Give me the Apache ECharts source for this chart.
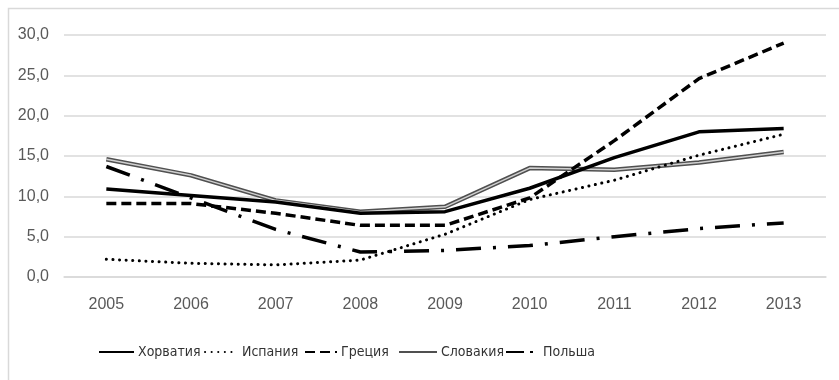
<!DOCTYPE html>
<html><head><meta charset="utf-8">
<script src="https://cdn.jsdelivr.net/npm/echarts@6/dist/echarts.min.js"></script>
<style>html,body{margin:0;padding:0;background:#fff}#c{width:839px;height:380px}</style>
</head><body><div id="c"></div>
<script>
const years = ['2005','2006','2007','2008','2009','2010','2011','2012','2013'];
const croatia  = [10.9, 10.1, 9.3, 7.9, 8.1, 11.0, 14.8, 18.0, 18.4];
const spain    = [2.2, 1.7, 1.5, 2.1, 5.3, 9.6, 12.0, 15.1, 17.7];
const greece   = [9.1, 9.1, 7.9, 6.4, 6.4, 9.8, 16.9, 24.6, 29.0];
const slovakia = [14.6, 12.6, 9.5, 8.1, 8.7, 13.5, 13.3, 14.2, 15.5];
const poland   = [13.7, 9.8, 5.9, 3.1, 3.3, 3.9, 5.0, 6.0, 6.7];
const names = ['Хорватия','Испания','Греция','Словакия','Польша'];
const yTicks = {min: 0, max: 30, interval: 5};

const AXFONT = '"Liberation Sans", Arial, sans-serif';
const LGFONT = '"DejaVu Sans Condensed", "Liberation Sans", sans-serif';
const legendLefts = [98, 204, 304, 398, 505];
const legendWidths = [35, 33, 32, 38, 33];
const legendLine = [
  {},
  {},
  {},
  {},
  {type: [18, 6, 3, 6]}
];

const chart = echarts.init(document.getElementById('c'));
chart.setOption({
  animation: false,
  textStyle: {fontFamily: AXFONT},
  graphic: [{type:'rect', shape:{x:8.5, y:8.5, width:900, height:400}, style:{fill:'none', stroke:'#d9d9d9', lineWidth:1.5}, silent:true}],
  grid: {left: 64, right: 13, top: 35, bottom: 103},
  legend: names.map((n, i) => ({
    data: [n], left: legendLefts[i], top: 345, padding: 0,
    itemWidth: legendWidths[i], itemHeight: 14, itemGap: 0,
    itemStyle: {color: 'transparent', borderWidth: 0, opacity: 0},
    lineStyle: legendLine[i],
    textStyle: {fontFamily: LGFONT, fontSize: 14, color: '#333', padding: [0, 0, 0, -1]}
  })),
  xAxis: {
    type: 'category', data: years, boundaryGap: true,
    axisLine: {lineStyle: {color: '#d9d9d9', width: 1.5}},
    axisTick: {show: false},
    axisLabel: {fontFamily: AXFONT, fontSize: 16, color: '#595959', margin: 20}
  },
  yAxis: {
    type: 'value', min: yTicks.min, max: yTicks.max, interval: yTicks.interval,
    axisLine: {show: false}, axisTick: {show: false},
    splitLine: {lineStyle: {color: '#d9d9d9', width: 1.5}},
    axisLabel: {fontFamily: AXFONT, fontSize: 16, color: '#595959', margin: 15,
      formatter: v => v.toFixed(1).replace('.', ',')}
  },
  series: [
    {name: 'Словакия', type: 'line', data: slovakia, symbol: 'none', color: '#555',
      lineStyle: {color: '#505050', width: 4.5}},
    {name: 'Словакия', type: 'line', data: slovakia, symbol: 'none', color: '#555',
      lineStyle: {color: '#d0d0d0', width: 1.5}},
    {name: 'Польша', type: 'line', data: poland, symbol: 'none', color: '#000',
      lineStyle: {color: '#000', width: 3.5, type: [25, 12, 3, 12]}},
    {name: 'Испания', type: 'line', data: spain, symbol: 'none', color: '#000',
      lineStyle: {color: '#000', width: 3, type: [0.1, 6.5], cap: 'round'}},
    {name: 'Греция', type: 'line', data: greece, symbol: 'none', color: '#000',
      lineStyle: {color: '#000', width: 3.5, type: [10, 5]}},
    {name: 'Хорватия', type: 'line', data: croatia, symbol: 'none', color: '#000',
      lineStyle: {color: '#000', width: 3.5}}
  ]
});
</script></body></html>
